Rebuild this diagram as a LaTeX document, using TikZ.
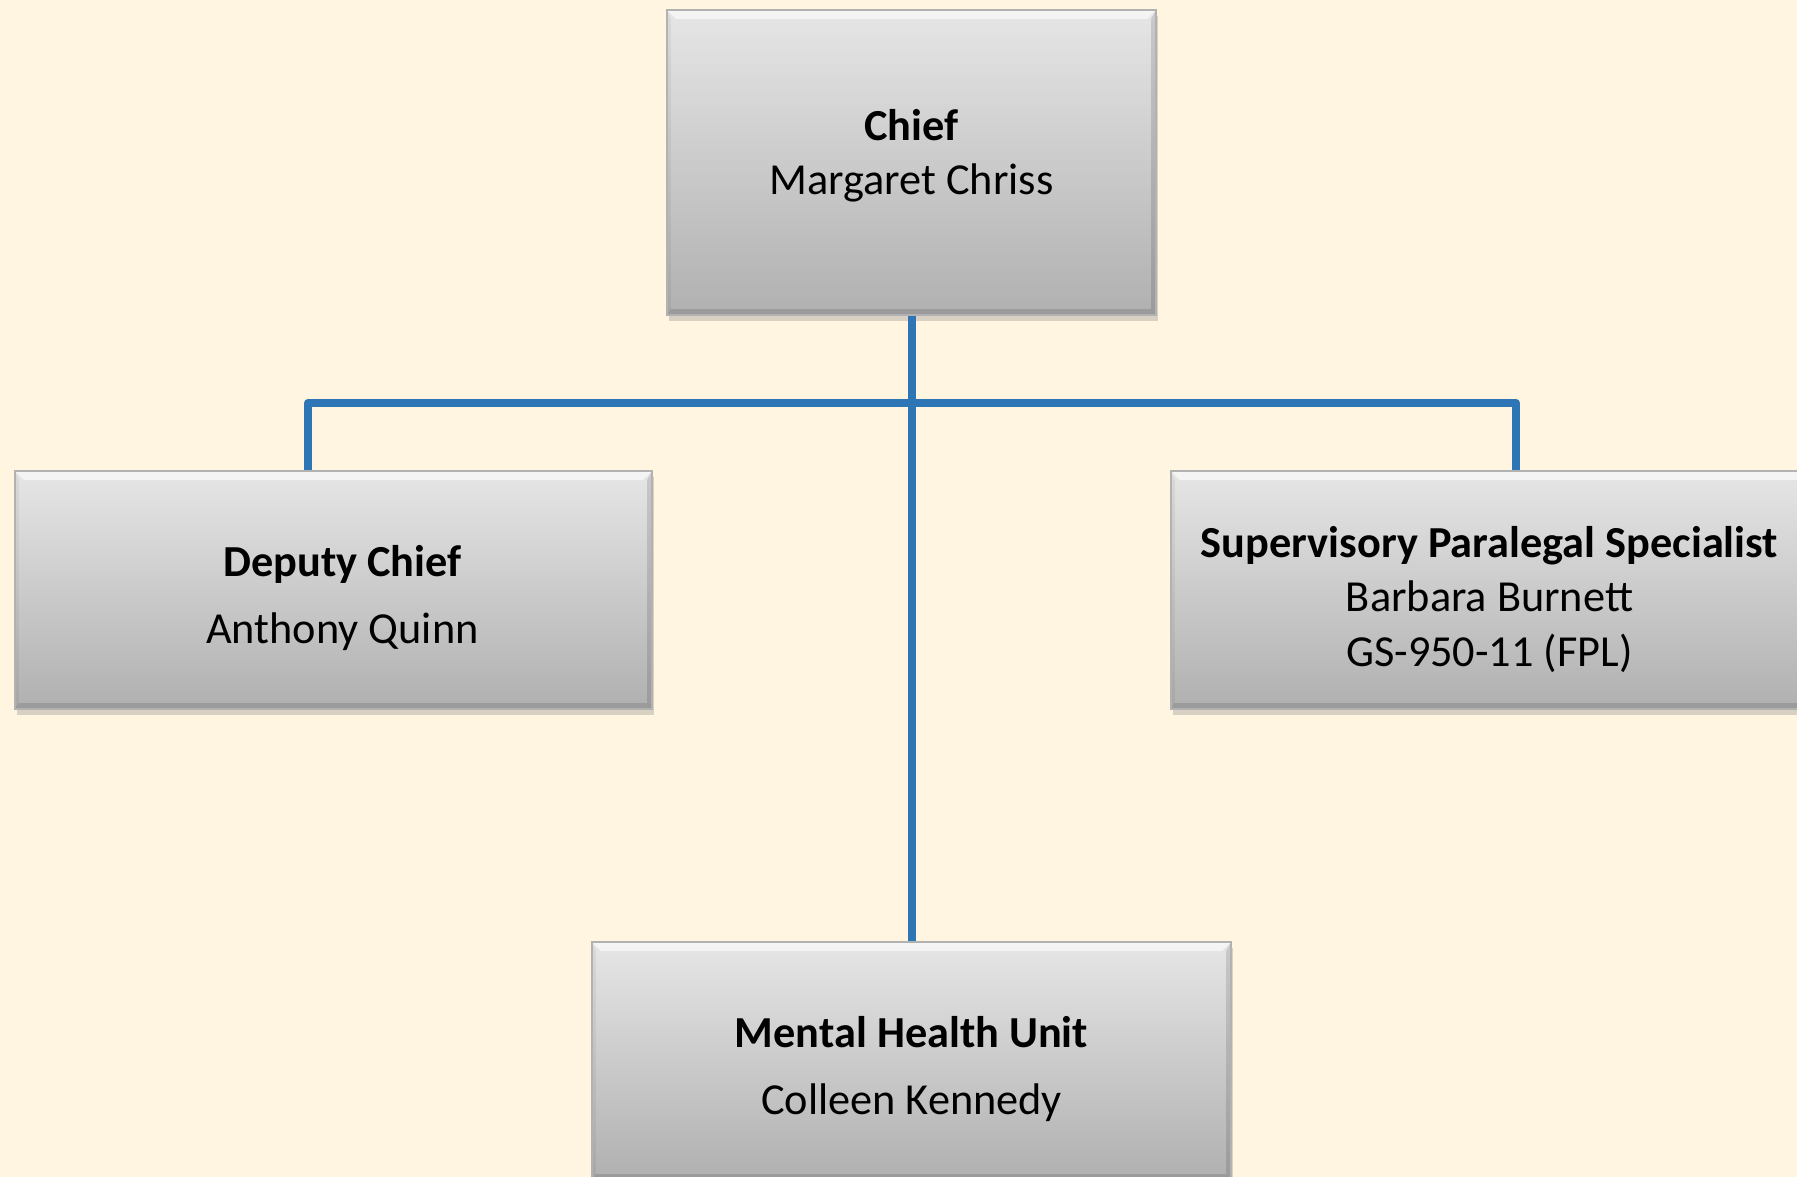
\documentclass[tikz,border=0pt]{standalone}
\usepackage{fontspec}
\setmainfont{Carlito}
\usetikzlibrary{shadows}
\definecolor{paper}{RGB}{255,245,225}
\definecolor{linkblue}{RGB}{46,117,182}
\definecolor{boxtop}{RGB}{230,230,230}
\definecolor{boxbot}{RGB}{176,176,176}
% invisible struts to move the text block down or up inside a box
\newcommand\pushdown[1]{\raisebox{#1}{\vphantom{h}}}
\newcommand\pushup[1]{\raisebox{-#1}{\vphantom{g}}}
\tikzset{bevel/.style={path picture={
  \fill[white,opacity=0.6] (path picture bounding box.north west) -- (path picture bounding box.north east)
    -- ([shift={(-0.09cm,-0.09cm)}]path picture bounding box.north east) -- ([shift={(0.09cm,-0.09cm)}]path picture bounding box.north west) -- cycle;
  \fill[black,opacity=0.12] (path picture bounding box.south west) -- (path picture bounding box.south east)
    -- ([shift={(-0.05cm,0.06cm)}]path picture bounding box.south east) -- ([shift={(0.04cm,0.06cm)}]path picture bounding box.south west) -- cycle;
  \fill[black,opacity=0.12] (path picture bounding box.north east) -- (path picture bounding box.south east)
    -- ([shift={(-0.05cm,0.06cm)}]path picture bounding box.south east) -- ([shift={(-0.05cm,-0.09cm)}]path picture bounding box.north east) -- cycle;
  \fill[black,opacity=0.05] (path picture bounding box.north west) -- (path picture bounding box.south west)
    -- ([shift={(0.04cm,0.06cm)}]path picture bounding box.south west) -- ([shift={(0.04cm,-0.09cm)}]path picture bounding box.north west) -- cycle;
}}}

\begin{document}
\begin{tikzpicture}[x=0.01cm,y=-0.01cm,
  every node/.style = {draw=gray!60, align=center, top color=boxtop, bottom color=boxbot, bevel, drop shadow={shadow xshift=0.6pt,shadow yshift=-1.8pt,opacity=0.3}, font=\fontsize{12.6}{15.2}\selectfont, minimum width=6.37cm, minimum height=2.38cm, inner sep=0pt},
  link/.style = {draw=linkblue, line width=2.27pt, line join=round}]
\fill[paper] (0,0) rectangle (1797,1177);
\useasboundingbox (0,0) rectangle (1797,1177);
\node(chief)[minimum width=4.89cm, minimum height=3.05cm] at (911.5,162.5) {\textbf{Chief}\\Margaret Chriss\pushup{0.13cm}};
\node(deputy) at (333.5,590) {\hspace*{0.18cm}\pushdown{0.17cm}\textbf{Deputy Chief}\\[3.8pt]\hspace*{0.18cm}Anthony Quinn};
\node(supervisory)[font=\fontsize{12.6}{15.5}\selectfont] at (1489.5,590) {\pushdown{0.19cm}\textbf{Supervisory Paralegal Specialist}\\Barbara Burnett\\GS-950-11 (FPL)};
\node(mental)[minimum width=6.39cm] at (911.5,1061) {\pushdown{0.17cm}\textbf{Mental Health Unit}\\[3.8pt]Colleen Kennedy};
\draw[link] (chief.south) -- (mental.north);
\draw[link] ([xshift=-0.255cm]deputy.north) |- ([yshift=-0.87cm]chief.south) -| ([xshift=0.265cm]supervisory.north);
\end{tikzpicture}
\end{document}
